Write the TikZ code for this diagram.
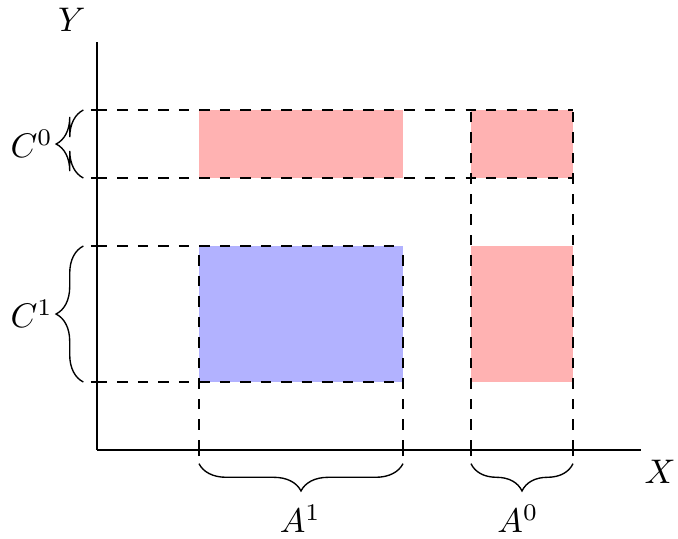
\documentclass[tikz,border=0pt]{standalone}
\usepackage{amsmath,amssymb}
\usepackage{tikz}
\usetikzlibrary{decorations.pathreplacing,calc}

\begin{document}
\begin{tikzpicture}[scale=0.7]
\useasboundingbox (-1.426,-1.294) rectangle (8.544,6.618);
% cells
\fill[red!30] (1.5,4) rectangle (4.5,5);
\fill[red!30] (5.5,4) rectangle (7,5);
\fill[red!30] (5.5,1) rectangle (7,3);
\fill[blue!30] (1.5,1) rectangle (4.5,3);
% guide lines
\draw[dashed] (0,5)--(7,5);
\draw[dashed] (0,4)--(7,4);
\draw[dashed] (0,3)--(4.5,3);
\draw[dashed] (0,1)--(4.5,1);
\draw[dashed] (1.5,0)--(1.5,3);
\draw[dashed] (4.5,0)--(4.5,3);
\draw[dashed] (5.5,0)--(5.5,5);
\draw[dashed] (7,0)--(7,5);
% axes
\draw (0,0)--(8,0);
\draw (0,0)--(0,6);
\node (X) at (8.28,-0.32) {$X$};
\node (Y) at (-0.37,6.32) {$Y$};
\foreach \y in {1,3,4,5} \draw[thick] (-0.09,\y)--(0.09,\y);
\foreach \x in {1.5,4.5,5.5,7} \draw[thick] (\x,-0.09)--(\x,0.09);
% braces (the short one folds over itself)
\begin{scope}[shift={(-0.2,4)},rotate=90]
  \draw (0,0) .. controls (.06,.12) and (.2,.2) .. (.4,.2) -- (.1,.2)
    .. controls (.3,.2) and (.44,.28) .. (.5,.4)
    .. controls (.56,.28) and (.7,.2) .. (.9,.2) -- (.6,.2)
    .. controls (.8,.2) and (.94,.12) .. (1,0);
\end{scope}
\draw[decorate,decoration={brace,amplitude=8pt}] (-0.2,1)--(-0.2,3);
\draw[decorate,decoration={brace,amplitude=8pt}] (4.5,-0.2)--(1.5,-0.2);
\draw[decorate,decoration={brace,amplitude=8pt}] (7,-0.2)--(5.5,-0.2);
\node (C0) at (-0.96,4.5) {$C^0$};
\node (C1) at (-0.96,2) {$C^1$};
\node (A1) at (2.99,-1.01) {$A^1$};
\node (A0) at (6.19,-1.01) {$A^0$};
\end{tikzpicture}
\end{document}
